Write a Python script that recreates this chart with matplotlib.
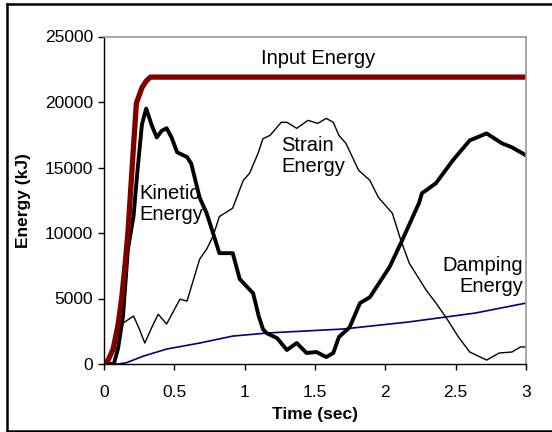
import matplotlib
matplotlib.use("Agg")
import matplotlib.pyplot as plt
from matplotlib.lines import Line2D

plt.rcParams['font.family'] = ['Liberation Sans', 'DejaVu Sans']

# Input energy
t_input = [0, 0.03, 0.065, 0.10, 0.125, 0.15, 0.17, 0.20, 0.23, 0.27, 0.30, 0.33, 3.0]
e_input = [0, 300, 1140, 3000, 4950, 7600, 10000, 15000, 19900, 21100, 21600, 21900, 21900]

# Kinetic energy
t_kin = [0, 0.07, 0.10, 0.135, 0.17, 0.21, 0.24, 0.27, 0.30, 0.34, 0.375, 0.41, 0.445, 0.48, 0.52,
         0.59, 0.62, 0.68, 0.73, 0.775, 0.82, 0.915, 0.965, 1.06, 1.10, 1.13, 1.155, 1.23, 1.30,
         1.37, 1.44, 1.51, 1.58, 1.63, 1.67, 1.745, 1.82, 1.89, 2.03, 2.12, 2.24, 2.26, 2.36,
         2.48, 2.60, 2.72, 2.83, 2.90, 3.0]
e_kin = [0, 0, 1200, 3660, 8770, 11280, 15000, 18300, 19500, 18200, 17300, 17800, 18000, 17300, 16160,
         15800, 15300, 12700, 11500, 10000, 8460, 8460, 6480, 5400, 3650, 2670, 2360, 1980, 1070,
         1600, 840, 915, 530, 840, 2060, 2780, 4650, 5100, 7400, 9450, 12300, 13030, 13800,
         15550, 17070, 17600, 16840, 16540, 15930]

# Strain energy
t_strain = [0, 0.07, 0.135, 0.21, 0.25, 0.29, 0.34, 0.385, 0.445, 0.54, 0.59, 0.68, 0.73, 0.775,
            0.82, 0.915, 0.99, 1.035, 1.095, 1.13, 1.18, 1.26, 1.30, 1.37, 1.45, 1.52, 1.58,
            1.63, 1.67, 1.72, 1.81, 1.89, 1.95, 2.05, 2.11, 2.17, 2.29, 2.36, 2.43, 2.52, 2.60,
            2.72, 2.81, 2.90, 2.96, 3.0]
e_strain = [0, 0, 3120, 3660, 2700, 1600, 2800, 3800, 3050, 4950, 4800, 8000, 8770, 9760,
            11250, 11900, 14020, 14560, 16080, 17200, 17450, 18450, 18450, 17990, 18600, 18370, 18750,
            18450, 17450, 16840, 14790, 14020, 12730, 11500, 9450, 7700, 5640, 4650, 3580, 2060, 915,
            300, 840, 915, 1300, 1300]

# Damping energy
t_damp = [0, 0.10, 0.16, 0.28, 0.445, 0.68, 0.915, 1.155, 1.22, 1.70, 2.16, 2.64, 3.0]
e_damp = [0, 0, 100, 600, 1140, 1600, 2130, 2360, 2400, 2670, 3200, 3890, 4650]

x_ticks = [0, 0.5, 1, 1.5, 2, 2.5, 3]
x_ticklabels = ['0', '0.5', '1', '1.5', '2', '2.5', '3']
y_ticks = [0, 5000, 10000, 15000, 20000, 25000]

fig = plt.figure(figsize=(5.52, 4.32), dpi=100)
ax = fig.add_axes([104/552, 1-364/432, 422/552, (364-36.5)/432])

ax.plot(t_damp, e_damp, color='#000080', lw=1.2)
ax.plot(t_strain, e_strain, color='black', lw=1.0)
ax.plot(t_kin, e_kin, color='black', lw=2.8)
ax.plot(t_input, e_input, color='#800000', lw=3.8, solid_capstyle='butt')

ax.set_xlim(0, 3)
ax.set_ylim(0, 25000)
ax.set_xticks(x_ticks)
ax.set_xticklabels(x_ticklabels)
ax.set_yticks(y_ticks)
ax.tick_params(axis='both', labelsize=12.5, length=4, width=1, direction='out', colors='black')
ax.tick_params(axis='x', pad=11)
ax.tick_params(axis='y', pad=4)

for s in ['left', 'bottom']:
    ax.spines[s].set_color('black')
    ax.spines[s].set_linewidth(1)
for s in ['top', 'right']:
    ax.spines[s].set_color('#999999')
    ax.spines[s].set_linewidth(1.2)

ax.set_xlabel('Time (sec)', fontsize=12.5, fontweight='bold')
ax.set_ylabel('Energy (kJ)', fontsize=12.5, fontweight='bold')
ax.xaxis.set_label_coords(0.5, -0.13)
ax.yaxis.set_label_coords(-0.172, 0.5)

fs = 14.5
ax.text(1.52, 23320, 'Input Energy', fontsize=fs, ha='center', va='center')
ax.text(0.25, 12200, 'Kinetic\nEnergy', fontsize=fs, ha='left', va='center', linespacing=1.15)
ax.text(1.262, 15850, 'Strain\nEnergy', fontsize=fs, ha='left', va='center', linespacing=1.15)
ax.text(2.98, 6710, 'Damping\nEnergy', fontsize=fs, ha='right', va='center',
        multialignment='right', linespacing=1.15)

# outer frame (left, top, bottom; right edge beyond image)
W, H = 552, 432
for (x0, y0, x1, y1) in [(7, 4, 7, 431), (7, 4, 560, 4), (7, 431, 560, 431)]:
    fig.add_artist(Line2D([x0/W, x1/W], [1-y0/H, 1-y1/H], color='black', lw=1.8,
                          transform=fig.transFigure))

fig.savefig('out.png', dpi=100)
